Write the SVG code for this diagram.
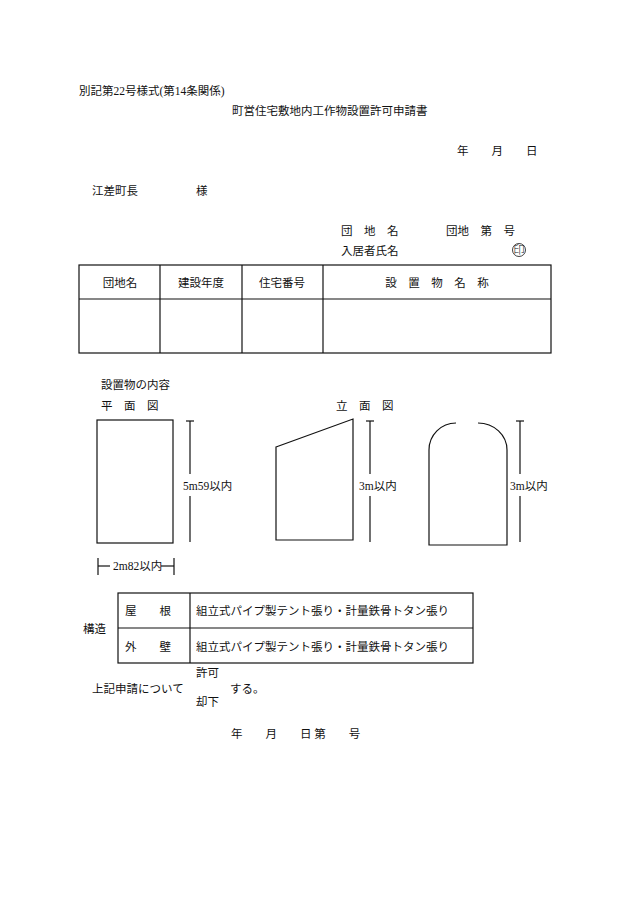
<svg xmlns="http://www.w3.org/2000/svg" width="630" height="903" viewBox="0 0 630 903">
<style>
text{font-family:"Liberation Serif","Noto Sans CJK JP",serif;font-size:11.5px;fill:#111}
.l{stroke:#111;stroke-width:1.2;fill:none}
</style>
<rect width="630" height="903" fill="#fff"/>
<g id="header">
<text x="79" y="95">別記第22号様式(第14条関係)</text>
<text x="232" y="115">町営住宅敷地内工作物設置許可申請書</text>
<text x="457" y="155" xml:space="preserve">年　　月　　日</text>
<text x="92" y="195">江差町長</text>
<text x="196" y="195">様</text>
<text x="341" y="235" xml:space="preserve">団　地　名</text>
<text x="446" y="235" xml:space="preserve">団地　第　号</text>
<text x="341" y="255">入居者氏名</text>
<circle cx="519" cy="250" r="6.5" fill="none" stroke="#111" stroke-width="0.8"/>
<text x="519" y="253.5" font-size="8" font-weight="300" text-anchor="middle">印</text>
</g>
<g id="table1" class="l">
<rect x="79" y="265" width="472" height="88"/>
<line x1="79" y1="299" x2="551" y2="299"/>
<line x1="160" y1="265" x2="160" y2="353"/>
<line x1="242" y1="265" x2="242" y2="353"/>
<line x1="323" y1="265" x2="323" y2="353"/>
</g>
<g id="table1-text">
<text x="120" y="287" text-anchor="middle">団地名</text>
<text x="201" y="287" text-anchor="middle">建設年度</text>
<text x="282" y="287" text-anchor="middle">住宅番号</text>
<text x="437" y="287" text-anchor="middle" xml:space="preserve">設　置　物　名　称</text>
</g>
<g id="drawings">
<text x="101" y="389">設置物の内容</text>
<text x="101" y="410" xml:space="preserve">平　面　図</text>
<text x="336" y="410" xml:space="preserve">立　面　図</text>
<rect x="97" y="420" width="76" height="123" class="l"/>
<g class="l">
<line x1="186" y1="421" x2="194" y2="421"/><line x1="190" y1="421" x2="190" y2="474"/><line x1="190" y1="496" x2="190" y2="542"/>
<line x1="98" y1="558" x2="98" y2="575"/><line x1="98" y1="566" x2="110" y2="566"/><line x1="161" y1="566" x2="174" y2="566"/><line x1="174" y1="558" x2="174" y2="575"/>
<polygon points="276,447 353,419 353,540 276,540"/>
<line x1="366" y1="421" x2="374" y2="421"/><line x1="370" y1="421" x2="370" y2="474"/><line x1="370" y1="496" x2="370" y2="542"/>
<path d="M429,450 A27,27 0 0 1 456,423 M478,423 A29,27 0 0 1 507,450 M429,450 V545 H507 V450"/>
<line x1="516" y1="421" x2="524" y2="421"/><line x1="520" y1="421" x2="520" y2="474"/><line x1="520" y1="496" x2="520" y2="542"/>
</g>
<text x="183" y="490">5m59以内</text>
<text x="359" y="490">3m以内</text>
<text x="510" y="490">3m以内</text>
<text x="113" y="570">2m82以内</text>
</g>
<g id="table2">
<g class="l">
<rect x="118" y="593" width="355" height="70"/>
<line x1="118" y1="628" x2="473" y2="628"/>
<line x1="190" y1="593" x2="190" y2="663"/>
</g>
<text x="83" y="633">構造</text>
<text x="125" y="615" xml:space="preserve">屋　　根</text>
<text x="125" y="651" xml:space="preserve">外　　壁</text>
<text x="196" y="615">組立式パイプ製テント張り・計量鉄骨トタン張り</text>
<text x="196" y="651">組立式パイプ製テント張り・計量鉄骨トタン張り</text>
</g>
<g id="footer">
<text x="92" y="693">上記申請について</text>
<text x="196" y="677">許可</text>
<text x="196" y="706">却下</text>
<text x="230" y="693">する。</text>
<text x="231" y="738" xml:space="preserve">年　　月　　日 第　　号</text>
</g>
</svg>
